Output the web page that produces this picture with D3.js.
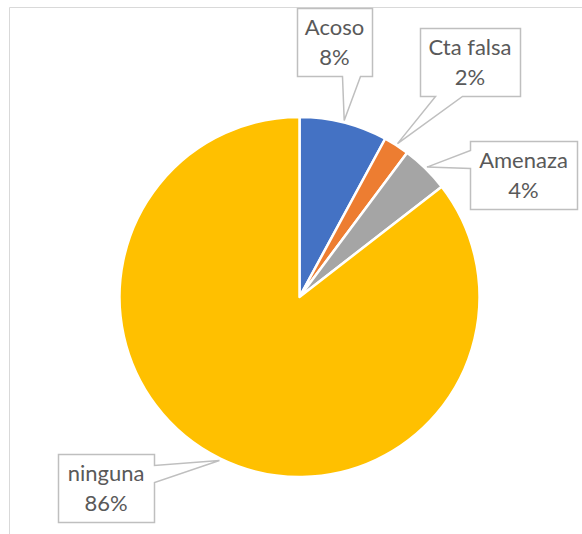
<!DOCTYPE html>
<html><head><meta charset="utf-8">
<script src="https://cdn.jsdelivr.net/npm/d3@7"></script>
<style>html,body{margin:0;padding:0;background:#fff;}svg{display:block;}</style>
</head><body>
<svg id="c" width="582" height="534"></svg>
<script>
const categories = ["Acoso", "Cta falsa", "Amenaza", "ninguna"];
const values = [7.9, 2.3, 4.3, 85.5];
const labels = ["8%", "2%", "4%", "86%"];
const colors = ["#4472C4", "#ED7D31", "#A5A5A5", "#FFC000"];

const svg = d3.select("#c");
const cx = 299.5, cy = 297, r = 180;

// chart area border
svg.append("path").attr("d", "M9.5,534 V7.5 H582")
  .attr("fill", "none").attr("stroke", "#D9D9D9").attr("stroke-width", 1);

const data = categories.map((c, i) => ({cat: c, val: values[i], lab: labels[i], col: colors[i]}));
const pie = d3.pie().value(d => d.val).sort(null);
const arcs = pie(data);
const arc = d3.arc().innerRadius(0).outerRadius(r);
const anchorArc = d3.arc().innerRadius(r + 2).outerRadius(r + 2);

const g = svg.append("g").attr("transform", `translate(${cx},${cy})`);
g.selectAll("path").data(arcs).join("path")
  .attr("d", arc).attr("fill", d => d.data.col)
  .attr("stroke", "#fff").attr("stroke-width", 2.5).attr("stroke-linejoin", "round");

// label boxes (x, y, w, h) and callout side
const boxes = [
  {x: 297, y: 8, w: 75, h: 68, side: "bottom", o1: 45, o2: 63},
  {x: 420, y: 28, w: 100, h: 68, side: "bottom", o1: 15, o2: 42},
  {x: 470, y: 141, w: 107, h: 68, side: "left", o1: 9, o2: 27},
  {x: 58, y: 454, w: 96, h: 68, side: "right", o1: 11, o2: 28}
];

arcs.forEach((a, i) => {
  const b = boxes[i];
  const [px0, py0] = anchorArc.centroid(a);
  const px = px0 + cx, py = py0 + cy;
  const L = b.x + 0.5, T = b.y + 0.5, R = b.x + b.w + 0.5, B = b.y + b.h + 0.5;
  let p;
  if (b.side === "bottom") {
    p = `M${L},${T} H${R} V${B} H${L + b.o2} L${px},${py} L${L + b.o1},${B} H${L} Z`;
  } else if (b.side === "left") {
    p = `M${L},${T} H${R} V${B} H${L} V${T + b.o2} L${px},${py} L${L},${T + b.o1} Z`;
  } else {
    p = `M${L},${T} H${R} V${T + b.o1} L${px},${py} L${R},${T + b.o2} V${B} H${L} Z`;
  }
  svg.append("path").attr("d", p).attr("fill", "#fff")
    .attr("stroke", "#BFBFBF").attr("stroke-width", 1.5).attr("stroke-linejoin", "miter");
  const t = svg.append("text").attr("text-anchor", "middle")
    .attr("font-family", "Lato, 'Open Sans', sans-serif").attr("font-size", 22)
    .attr("fill", "#595959");
  t.append("tspan").attr("x", b.x + b.w / 2).attr("y", b.y + 27).text(a.data.cat);
  t.append("tspan").attr("x", b.x + b.w / 2).attr("y", b.y + 57).text(a.data.lab);
});
</script>
</body></html>
